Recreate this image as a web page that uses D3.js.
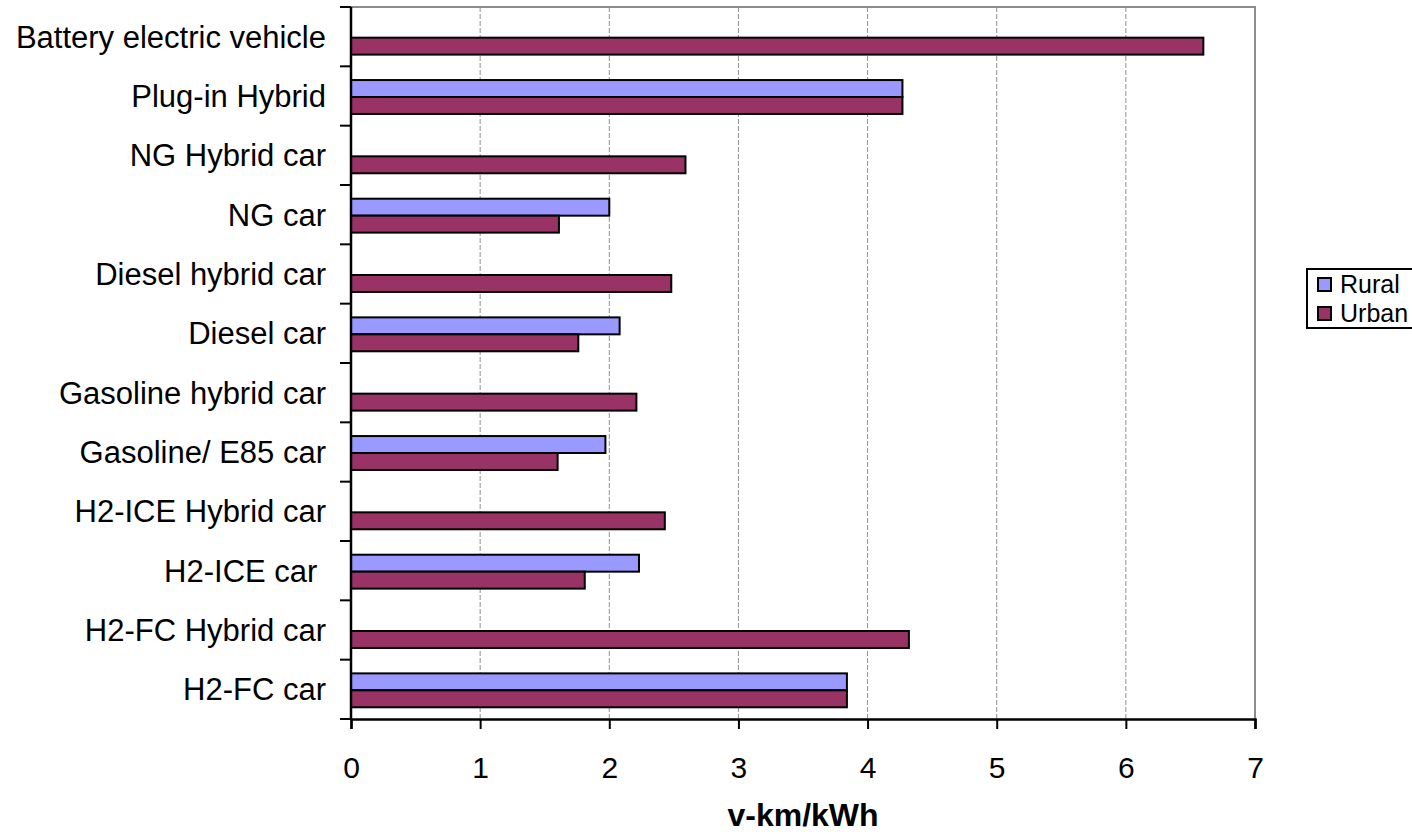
<!DOCTYPE html>
<html><head><meta charset="utf-8">
<script src="https://cdn.jsdelivr.net/npm/d3@7"></script>
<style>
html,body{margin:0;padding:0;background:#fff;overflow:hidden;}
svg text{font-family:"Liberation Sans",Arial,sans-serif;}
</style></head>
<body><svg id="c" width="1412" height="834"></svg>
<script>
const categories = ["Battery electric vehicle","Plug-in Hybrid","NG Hybrid car","NG car","Diesel hybrid car","Diesel car","Gasoline hybrid car","Gasoline/ E85 car","H2-ICE Hybrid car","H2-ICE car ","H2-FC Hybrid car","H2-FC car"];
const seriesNames = ["Rural","Urban"];
const rural = [null,4.27,null,2.00,null,2.08,null,1.97,null,2.23,null,3.84];
const urban = [6.60,4.27,2.59,1.61,2.48,1.76,2.21,1.60,2.43,1.81,4.32,3.84];
const xTicks = [0,1,2,3,4,5,6,7];
const axisTitle = "v-km/kWh";
const colors = {Rural:"#9999FF", Urban:"#993366"};

const svg = d3.select("#c");
const L=351, R=1255, T=7, B=719;
const x = d3.scaleLinear().domain([0,7]).range([L,R]);
const y = d3.scaleBand().domain(categories).range([T,B]).padding(0);
const ys = d3.scaleBand().domain(seriesNames).range([0,y.bandwidth()]).paddingInner(0).paddingOuter(0.75);

// gridlines
svg.append("g").selectAll("line").data(xTicks.slice(1)).join("line")
  .attr("x1",d=>x(d)).attr("x2",d=>x(d)).attr("y1",T).attr("y2",B)
  .attr("stroke","#909090").attr("stroke-width",1).attr("stroke-dasharray","5,2");
// plot border top/right
svg.append("path").attr("d",`M${L},${T}H${R}V${B}`).attr("fill","none").attr("stroke","#8c8c8c").attr("stroke-width",2);

const data = [];
categories.forEach((c,i)=>{
  if(rural[i]!=null) data.push({c,s:"Rural",v:rural[i]});
  if(urban[i]!=null) data.push({c,s:"Urban",v:urban[i]});
});
svg.append("g").selectAll("rect").data(data).join("rect")
  .attr("x",x(0)).attr("y",d=>y(d.c)+ys(d.s)+1)
  .attr("width",d=>x(d.v)-x(0)).attr("height",ys.bandwidth())
  .attr("fill",d=>colors[d.s]).attr("stroke","#000").attr("stroke-width",2);

// x axis
const xa = svg.append("g").attr("transform",`translate(0,${B})`)
  .call(d3.axisBottom(x).tickValues(xTicks).tickSize(10).tickPadding(28).tickFormat(d3.format("d")));
xa.select(".domain").attr("stroke","#000").attr("stroke-width",2.5);
xa.selectAll(".tick line").attr("stroke","#000").attr("stroke-width",2);
xa.selectAll("text").attr("font-size",30).attr("fill","#000").attr("font-family","Liberation Sans, Arial, sans-serif");

// y axis: ticks at band boundaries
const ya = svg.append("g").attr("transform",`translate(${L},0)`);
ya.append("line").attr("x1",0).attr("x2",0).attr("y1",T).attr("y2",B).attr("stroke","#000").attr("stroke-width",2.5);
const bounds = categories.map(c=>y(c)).concat([B]);
ya.selectAll("line.tk").data(bounds).join("line").attr("class","tk")
  .attr("x1",-11).attr("x2",0).attr("y1",d=>d).attr("y2",d=>d).attr("stroke","#000").attr("stroke-width",2);
ya.selectAll("text").data(categories).join("text")
  .attr("x",-25).attr("y",c=>y(c)+y.bandwidth()/2).attr("dy","0.35em")
  .attr("text-anchor","end").attr("font-size",31).attr("fill","#000")
  .style("white-space","pre").text(c=>c);

// axis title
svg.append("text").attr("x",(L+R)/2).attr("y",826).attr("text-anchor","middle")
  .attr("font-size",32).attr("font-weight","bold").attr("fill","#000").text(axisTitle);

// legend
const lg = svg.append("g").attr("transform","translate(1307,269)");
lg.append("rect").attr("x",0).attr("y",0).attr("width",140).attr("height",59).attr("fill","#fff").attr("stroke","#000").attr("stroke-width",2);
seriesNames.forEach((s,i)=>{
  const g = lg.append("g").attr("transform",`translate(0,${15+i*29})`);
  g.append("rect").attr("x",11).attr("y",-6).attr("width",13).attr("height",13).attr("fill",colors[s]).attr("stroke","#000").attr("stroke-width",2);
  g.append("text").attr("x",33).attr("y",0).attr("dy","0.35em").attr("font-size",25).attr("fill","#000").text(s);
});
</script></body></html>
